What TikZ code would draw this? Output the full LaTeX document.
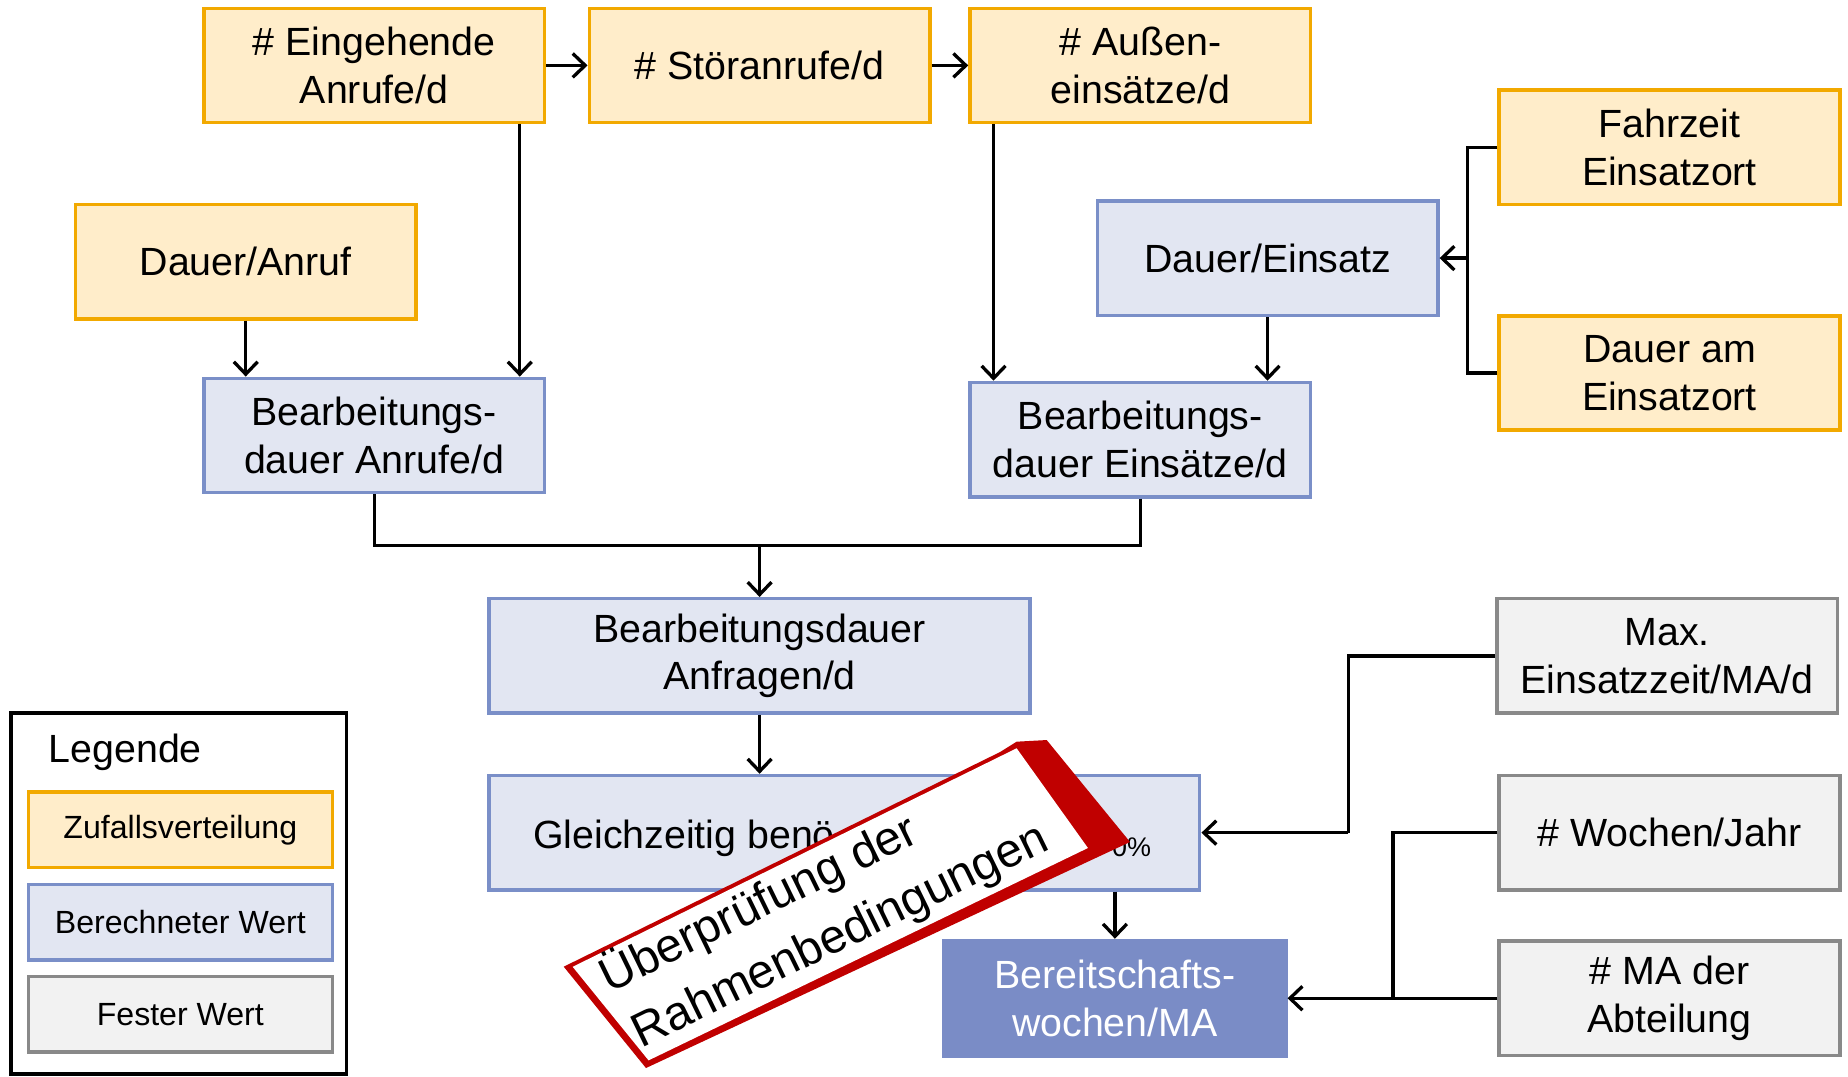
\documentclass[tikz,border=0pt]{standalone}
\usepackage{fontspec}
\setmainfont{Liberation Sans}
\usetikzlibrary{arrows.meta}
\definecolor{oB}{HTML}{F2A900}
\definecolor{oF}{HTML}{FFEDCA}
\definecolor{bB}{HTML}{7A8FC8}
\definecolor{bF}{HTML}{E2E6F2}
\definecolor{gB}{HTML}{898989}
\definecolor{gF}{HTML}{F2F2F2}
\definecolor{bD}{HTML}{7A8CC6}
\definecolor{stampred}{HTML}{C00000}
\begin{document}
\begin{tikzpicture}[x=0.02cm,y=-0.02cm,
  box/.style={draw, line width=1.7pt, minimum width=5.78cm, minimum height=1.94cm,
    align=center, inner sep=0pt, font=\fontsize{19}{23}\selectfont},
  rnd/.style={box, draw=oB, fill=oF},
  calc/.style={box, draw=bB, fill=bF},
  fix/.style={box, draw=gB, fill=gF},
  lgd/.style={minimum width=5.16cm, minimum height=1.28cm, line width=1.7pt, font=\fontsize{15.5}{18}\selectfont},
  arr/.style={-{Straight Barb[length=6pt,width=11.5pt]}, line width=1.6pt},
  ln/.style={line width=1.6pt},
  stamptxt/.style={rotate=26, anchor=base west, inner sep=0pt, font=\fontsize{23}{28}\selectfont}]
\useasboundingbox (0,0) rectangle (1568,913);

% input and calculated boxes
\node[rnd] (E1) at (317.5,55.5) {\# Eingehende\\Anrufe/d};
\node[rnd] (E2) at (644.5,55.5) {\# Störanrufe/d};
\node[rnd] (E3) at (967.5,55.5) {\# Außen-\\einsätze/d};
\node[rnd] (Fahr) at (1416.5,125) {Fahrzeit\\Einsatzort};
\node[rnd] (DAnruf) at (208.5,222) {Dauer/Anruf};
\node[calc] (DEins) at (1075.5,219) {Dauer/Einsatz};
\node[rnd] (DAm) at (1416.5,316.5) {Dauer am\\Einsatzort};
\node[calc] (BAnr) at (317.5,369.5) {Bearbeitungs-\\dauer Anrufe/d};
\node[calc] (BEins) at (967.5,373) {Bearbeitungs-\\dauer Einsätze/d};
\node[calc, minimum width=9.18cm] (Anfr) at (644.5,556.5) {Bearbeitungsdauer\\Anfragen/d};
\node[calc, minimum width=12.06cm] (Gleich) at (716.5,706.5) {};
\node[font=\fontsize{19}{23}\selectfont, anchor=base west, inner sep=0pt] (GleichT) at (452,720) {Gleichzeitig benö};
\node[font=\fontsize{13}{15}\selectfont, anchor=base east, inner sep=0pt] (GleichP) at (977,727) {0\%};
\node[box, draw=bD, fill=bD, text=white, minimum width=5.8cm, minimum height=1.96cm] (Bereit) at (946,847) {Bereitschafts-\\wochen/MA};
\node[fix] (Max) at (1414.5,556.5) {Max.\\Einsatzzeit/MA/d};
\node[fix] (Woch) at (1416.5,706.5) {\# Wochen/Jahr};
\node[fix] (MAder) at (1416.5,847) {\# MA der\\Abteilung};

% legend
\node[draw=black, line width=1.8pt, minimum width=5.7cm, minimum height=6.12cm] (Leg) at (151.5,758) {};
\node[font=\fontsize{19}{23}\selectfont, anchor=base west, inner sep=0pt] (LegT) at (41,647) {Legende};
\node[lgd, draw=oB, fill=oF] (L1) at (153,704) {Zufallsverteilung};
\node[lgd, draw=bB, fill=bF] (L2) at (153,782.5) {Berechneter Wert};
\node[lgd, draw=gB, fill=gF] (L3) at (153,860.5) {Fester Wert};

% connectors
\draw[arr] (E1.east) -- (E2.west);
\draw[arr] (E2.east) -- (E3.west);
\draw[arr] (E1.south -| 441,0) -- (BAnr.north -| 441,0);
\draw[arr] (E3.south -| 843,0) -- (BEins.north -| 843,0);
\draw[arr] (DAnruf.south) -- (BAnr.north -| DAnruf.south);
\draw[arr] (DEins.south) -- (BEins.north -| DEins.south);
\coordinate (j1) at (1245,219);
\draw[ln] (Fahr.west) -| (j1);
\draw[ln] (DAm.west) -| (j1);
\draw[arr] (j1) -- (DEins.east);
\coordinate (j2) at (644.5,463);
\draw[ln] (BAnr.south) |- (j2);
\draw[ln] (BEins.south) |- (j2);
\draw[arr] (j2) -- (Anfr.north);
\draw[arr] (Anfr.south) -- (Gleich.north -| Anfr.south);
\draw[arr] (Gleich.south -| Bereit.north) -- (Bereit.north);
\coordinate (j3) at (1144,706.5);
\draw[ln] (Max.west) -| (j3);
\draw[arr] (j3) -- (Gleich.east);
\coordinate (j4) at (1182,847);
\draw[ln] (Woch.west) -| (j4);
\draw[arr] (MAder.west) -- (Bereit.east);

% stamp
\fill[stampred] (478.3,820.2) -- (848.5,638.1) -- (862.6,629.3) -- (888.1,627.9)
  -- (958.8,714.4) -- (548.1,906.2) -- cycle;
\fill[white] (485.9,820.3) -- (862.6,634.9) -- (923.1,719.5) -- (550.3,899.7) -- cycle;
\node[stamptxt] (stampA) at (516.6,842.8) {Überprüfung der};
\node[stamptxt] (stampB) at (544.2,889.5) {Rahmenbedingungen};
\end{tikzpicture}
\end{document}
